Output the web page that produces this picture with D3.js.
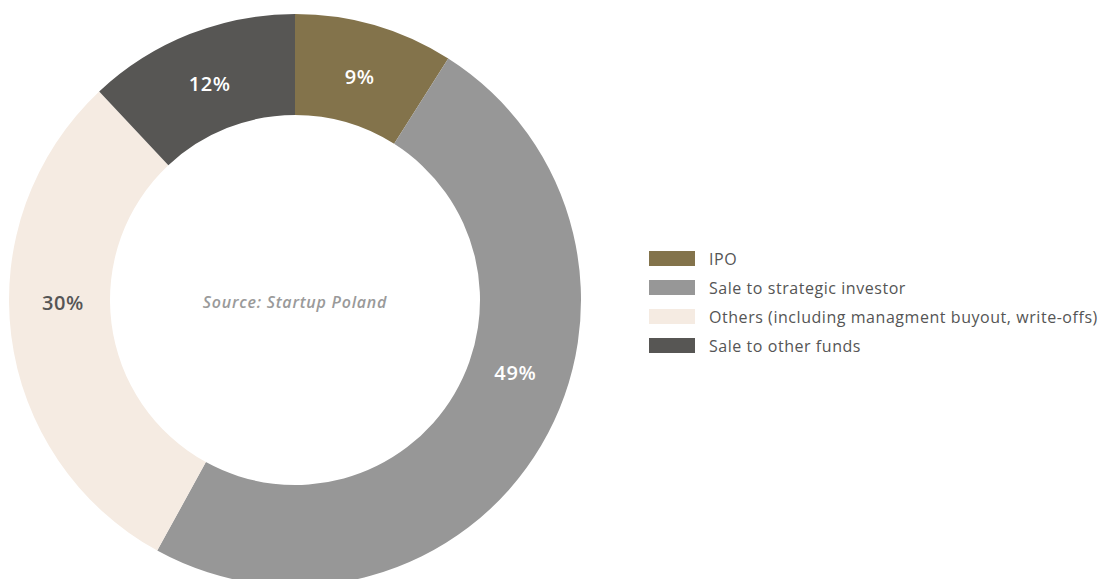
<!DOCTYPE html>
<html>
<head>
<meta charset="utf-8">
<script src="https://cdn.jsdelivr.net/npm/d3@7"></script>
<style>
  body { margin: 0; background: #fff; }
  svg { display: block; font-family: "Open Sans", sans-serif; }
</style>
</head>
<body>
<div id="chart"></div>
<script>
const categories = ["IPO", "Sale to strategic investor", "Others (including managment buyout, write-offs)", "Sale to other funds"];
const values = [9, 49, 30, 12];
const colors = ["#83734b", "#979797", "#f5ebe2", "#575654"];
const labelColors = ["#ffffff", "#ffffff", "#555555", "#ffffff"];
const sourceText = "Source: Startup Poland";

const W = 1101, H = 579;
const cx = 295, cy = 300;
const rOuter = 286, rInner = 185, rLabel = 232;

// the two big slices carry their labels off-centre, as in the original
const labelShift = [0, -0.070, 0.060, 0];

const svg = d3.select("#chart").append("svg")
    .attr("width", W)
    .attr("height", H);

const g = svg.append("g").attr("transform", `translate(${cx},${cy})`);

const pie = d3.pie().sort(null).value(d => d);
const arcs = pie(values);
const arc = d3.arc().innerRadius(rInner).outerRadius(rOuter);

g.selectAll(".slice")
    .data(arcs)
    .join("path")
    .attr("class", "slice")
    .attr("d", arc)
    .attr("fill", (d, i) => colors[i]);

function labelAngle(d, i) {
    return (d.startAngle + d.endAngle) / 2 + labelShift[i] * (d.endAngle - d.startAngle);
}

g.selectAll(".lbl")
    .data(arcs)
    .join("text")
    .attr("class", "lbl")
    .attr("x", (d, i) => rLabel * Math.sin(labelAngle(d, i)))
    .attr("y", (d, i) => -rLabel * Math.cos(labelAngle(d, i)))
    .attr("dy", "0.35em")
    .attr("text-anchor", "middle")
    .attr("font-size", 20)
    .attr("font-weight", 600)
    .attr("letter-spacing", 0.6)
    .attr("fill", (d, i) => labelColors[i])
    .text(d => d.data + "%");

g.append("text")
    .attr("x", 0)
    .attr("y", 2)
    .attr("dy", "0.35em")
    .attr("text-anchor", "middle")
    .attr("font-size", 16)
    .attr("font-style", "italic")
    .attr("font-weight", 600)
    .attr("letter-spacing", 0.75)
    .attr("fill", "#9a9a9a")
    .text(sourceText);

const ly = d3.scaleBand().domain(categories).range([244, 360]);

const legend = svg.append("g").attr("transform", "translate(649,0)");
const rows = legend.selectAll(".leg")
    .data(categories)
    .join("g")
    .attr("class", "leg")
    .attr("transform", d => `translate(0,${ly(d)})`);

rows.append("rect")
    .attr("x", 0)
    .attr("y", 7)
    .attr("width", 46)
    .attr("height", 15)
    .attr("fill", (d, i) => colors[i]);

rows.append("text")
    .attr("x", 60)
    .attr("y", 15)
    .attr("dy", "0.35em")
    .attr("font-size", 16)
    .attr("letter-spacing", 0.55)
    .attr("fill", "#555555")
    .text(d => d);
</script>
</body>
</html>
